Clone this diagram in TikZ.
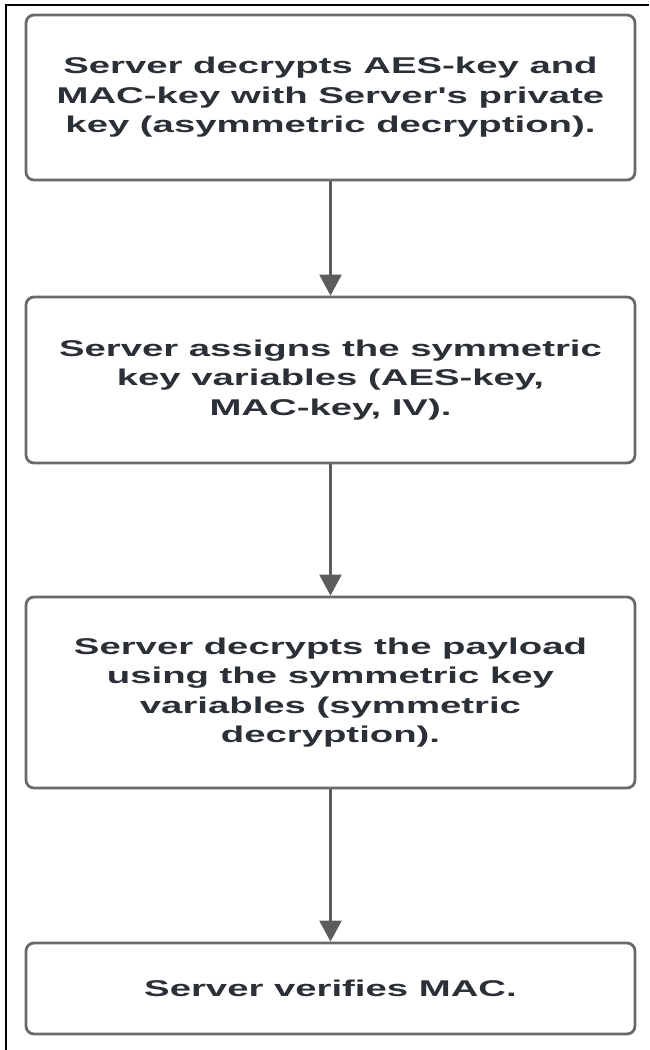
\documentclass[tikz,border=0pt]{standalone}
\usepackage{fontspec}
\usetikzlibrary{arrows.meta}
\newfontfamily\stepfont{Liberation Sans}[FakeStretch=1.68]
\definecolor{boxline}{HTML}{6A6A6A}
\definecolor{arrowline}{HTML}{5C5C5C}
\definecolor{steptext}{HTML}{2B2F36}
\tikzset{
  stepbox/.style={draw=boxline, line width=2.8pt, rounded corners=8pt,
    minimum width=609pt, inner sep=0pt, align=center, text=steptext,
    font=\stepfont\bfseries\fontsize{22.8}{29.5}\selectfont},
  flow/.style={draw=arrowline, line width=2.4pt,
    -{Triangle[width=22pt,length=21pt]}}
}
\begin{document}
\begin{tikzpicture}[x=1pt,y=-1pt]
  \useasboundingbox (0,0) rectangle (649,1050);
  % outer frame (top and left edges)
  \draw[line width=2pt, black] (6,1050) -- (6,5) -- (649,5);

  \node[stepbox, minimum height=165pt] (s1) at (330.5,97.5)
    {Server decrypts AES-key and\\MAC-key with Server's private\\key (asymmetric decryption).};
  \node[stepbox, minimum height=166pt] (s2) at (330.5,380)
    {Server assigns the symmetric\\key variables (AES-key,\\MAC-key, IV).};
  \node[stepbox, minimum height=191pt] (s3) at (330.5,692.5)
    {Server decrypts the payload\\using the symmetric key\\variables (symmetric\\decryption).};
  \node[stepbox, minimum height=91pt] (s4) at (330.5,988.5)
    {Server verifies MAC.};

  \draw[flow] (s1.south) -- (s2.north);
  \draw[flow] (s2.south) -- (s3.north);
  \draw[flow] (s3.south) -- (s4.north);
\end{tikzpicture}
\end{document}
